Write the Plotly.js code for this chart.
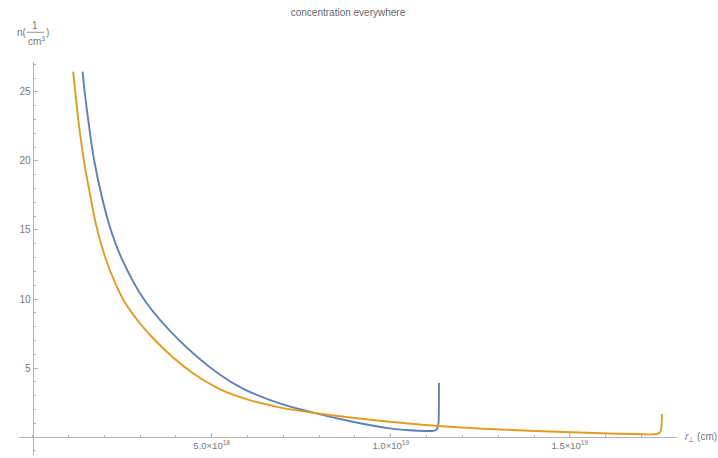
<!DOCTYPE html>
<html>
<head>
<meta charset="utf-8">
<script src="https://cdn.plot.ly/plotly-3.0.1.min.js"></script>
<style>
  html, body { margin: 0; padding: 0; background: #fff; }
  #plot { width: 718px; height: 458px; }
</style>
</head>
<body>
<div id="plot"></div>
<script>
// Inner-region profile (blue): r_perp in units of 1e18 cm, n in 1/cm^3
const blueR = [1.394, 1.458, 1.578, 1.717, 1.910, 2.155, 2.481, 3.131, 4.059,
               5.222, 5.871, 6.894, 7.917, 8.938, 9.961, 10.52, 10.98,
               11.13, 11.22, 11.27, 11.31, 11.333, 11.341, 11.344];
const blueN = [26.47, 24.91, 22.49, 20.07, 17.66, 15.24, 12.97, 9.89, 7.10,
               4.53, 3.51, 2.44, 1.72, 1.11, 0.63, 0.49, 0.44,
               0.44, 0.47, 0.54, 0.72, 1.09, 1.96, 3.91];

// Outer-region profile (orange)
const orangeR = [1.132, 1.299, 1.430, 1.597, 1.784, 2.016, 2.294, 2.621, 3.410, 4.477,
                 5.222, 6.058, 6.894, 7.917, 9.961, 11.63, 13.86, 16.09, 17.07,
                 17.35, 17.46, 17.52, 17.55, 17.566, 17.57];
const orangeN = [26.47, 22.49, 20.07, 17.66, 15.24, 13.12, 11.23, 9.57, 7.03, 4.62,
                 3.48, 2.68, 2.15, 1.72, 1.11, 0.75, 0.46, 0.26, 0.20,
                 0.20, 0.25, 0.36, 0.65, 1.23, 1.67];

const R_UNIT = 1e18; // cm

// Axis ticks
const xTickVals = [5e18, 1e19, 1.5e19];
const xTickText = ['5.0\u00d710<sup>18</sup>', '1.0\u00d710<sup>19</sup>', '1.5\u00d710<sup>19</sup>'];
const yTickVals = [5, 10, 15, 20, 25];
const yTickText = ['5', '10', '15', '20', '25'];

const W = 718, H = 458;
const M = { l: 19, r: 41, t: 62, b: 3 };
const xRange = [-0.38e18, 17.99e18];
const yRange = [-1.30, 27.17];

// Axes cross at the origin
const xAxisPos = (0 - yRange[0]) / (yRange[1] - yRange[0]);
const yAxisPos = (0 - xRange[0]) / (xRange[1] - xRange[0]);

const plotW = W - M.l - M.r, plotH = H - M.t - M.b;
const px = x => (x - M.l) / plotW;
const py = y => (H - M.b - y) / plotH;

const axisColor = '#b3b3b3';
const labelColor = '#777777';
const fontFam = '"Liberation Sans", Arial, sans-serif';

const toCm = arr => arr.map(v => v * R_UNIT);

const traces = [
  { x: toCm(blueR), y: blueN, type: 'scatter', mode: 'lines',
    line: { color: '#5E81B5', width: 1.9, shape: 'spline', smoothing: 1 }, hoverinfo: 'x+y' },
  { x: toCm(orangeR), y: orangeN, type: 'scatter', mode: 'lines',
    line: { color: '#E19C24', width: 1.9, shape: 'spline', smoothing: 1 }, hoverinfo: 'x+y' }
];

const small = { family: fontFam, size: 10, color: labelColor };

const layout = {
  width: W, height: H,
  margin: M,
  paper_bgcolor: '#ffffff', plot_bgcolor: '#ffffff',
  showlegend: false,
  font: { family: fontFam, size: 10, color: labelColor },
  title: {
    text: 'concentration everywhere',
    font: { family: fontFam, size: 10, color: '#666666' },
    x: 0.5, xref: 'paper', y: 1 - 12 / H, yref: 'container', yanchor: 'middle'
  },
  xaxis: {
    range: xRange, anchor: 'free', position: xAxisPos,
    showgrid: false, zeroline: false,
    showline: true, linecolor: axisColor, linewidth: 1,
    ticks: 'inside', ticklen: 4, tickcolor: axisColor, tickwidth: 1,
    tickmode: 'array', tickvals: xTickVals, ticktext: xTickText,
    tickfont: { family: fontFam, size: 9.5, color: labelColor },
    minor: { tickmode: 'linear', tick0: 0, dtick: 1e18, ticks: 'inside', ticklen: 2.5,
             tickcolor: axisColor, showgrid: false },
    fixedrange: true
  },
  yaxis: {
    range: yRange, anchor: 'free', position: yAxisPos,
    showgrid: false, zeroline: false,
    showline: true, linecolor: axisColor, linewidth: 1,
    ticks: 'inside', ticklen: 4, tickcolor: axisColor, tickwidth: 1,
    tickmode: 'array', tickvals: yTickVals, ticktext: yTickText,
    tickfont: small,
    minor: { tickmode: 'linear', tick0: 0, dtick: 1, ticks: 'inside', ticklen: 2.5,
             tickcolor: axisColor, showgrid: false },
    fixedrange: true
  },
  shapes: [
    // fraction bar of the n(1/cm^3) axis label
    { type: 'line', xref: 'paper', yref: 'paper',
      x0: px(27), x1: px(44), y0: py(32.3), y1: py(32.3),
      line: { color: labelColor, width: 0.8 } }
  ],
  annotations: [
    { text: 'n(', xref: 'paper', yref: 'paper', x: px(22), y: py(32), showarrow: false,
      xanchor: 'center', yanchor: 'middle', font: small },
    { text: '1', xref: 'paper', yref: 'paper', x: px(35), y: py(25), showarrow: false,
      xanchor: 'center', yanchor: 'middle', font: small },
    { text: 'cm<sup>3</sup>', xref: 'paper', yref: 'paper', x: px(36), y: py(40.5), showarrow: false,
      xanchor: 'center', yanchor: 'middle', font: small },
    { text: ')', xref: 'paper', yref: 'paper', x: px(47), y: py(32), showarrow: false,
      xanchor: 'center', yanchor: 'middle', font: small },
    { text: '<i>r</i><sub>\u22a5</sub> (cm)', xref: 'paper', yref: 'paper', x: px(683), y: py(437),
      showarrow: false, xanchor: 'left', yanchor: 'middle', font: small }
  ]
};

Plotly.newPlot('plot', traces, layout, { staticPlot: true, displayModeBar: false });
</script>
</body>
</html>
